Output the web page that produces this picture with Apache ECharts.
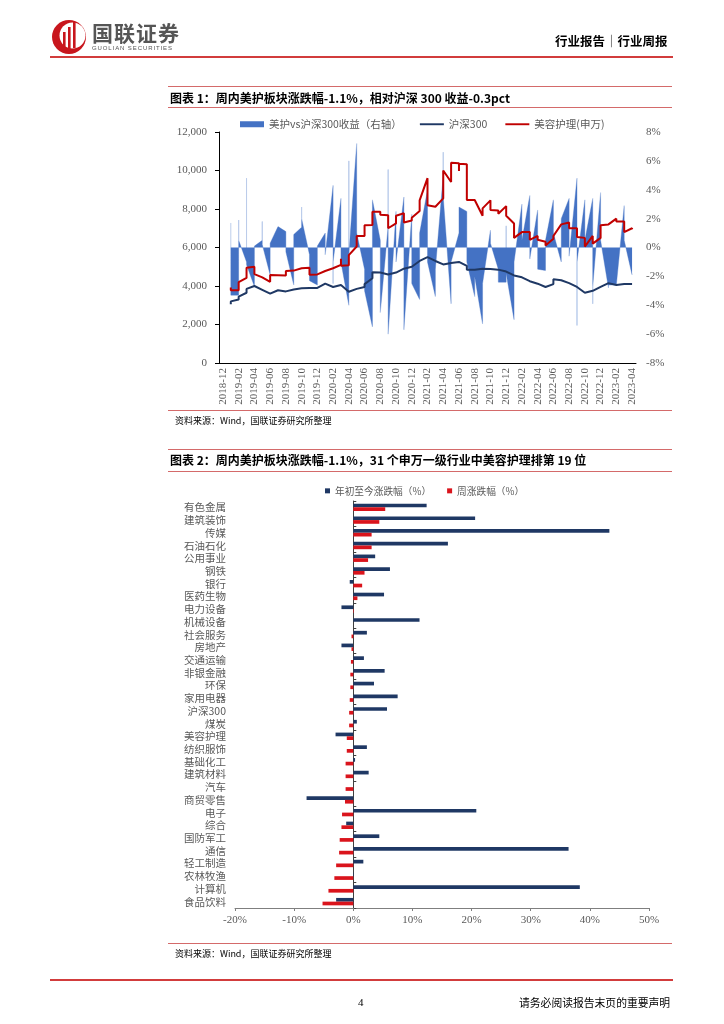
<!DOCTYPE html>
<html>
<head>
<meta charset="utf-8">
<script src="https://cdn.jsdelivr.net/npm/echarts@6/dist/echarts.min.js"></script>
<style>
  html, body { margin: 0; padding: 0; background: #fff; }
  #page { position: relative; width: 724px; height: 1024px; overflow: hidden; background: #fff; }
  #chart { position: absolute; left: 0; top: 0; width: 724px; height: 1024px; }
  .t { position: absolute; white-space: nowrap; font-family: "Noto Sans CJK SC", sans-serif; color: #000; line-height: 1; }
  .rule { position: absolute; height: 0; }
</style>
</head>
<body>
<div id="page">
  <div id="chart"></div>

  <!-- header -->
  <svg style="position:absolute;left:50px;top:18px" width="38" height="38" viewBox="0 0 38 38">
    <circle cx="19" cy="19" r="17" fill="#C8161D"/>
    <circle cx="22.5" cy="17.5" r="13" fill="#fff"/>
    <rect x="13" y="14" width="2.6" height="18" fill="#C8161D"/>
    <rect x="18" y="9" width="2.6" height="22" fill="#C8161D"/>
    <rect x="23" y="4" width="2.6" height="26" fill="#C8161D"/>
  </svg>
  <div class="t" style="left:92px;top:22px;font-size:21px;font-weight:bold;color:#555;letter-spacing:1px">国联证券</div>
  <div class="t" style="left:92px;top:45px;font-size:6px;font-family:'Liberation Sans',sans-serif;color:#555;letter-spacing:0.9px">GUOLIAN SECURITIES</div>
  <div class="t" style="left:555px;top:35px;font-size:12.5px;font-weight:bold">行业报告│行业周报</div>
  <div class="rule" style="left:50px;top:56px;width:623px;border-top:2px solid #D23C3C"></div>

  <!-- chart 1 title -->
  <div class="rule" style="left:168px;top:86px;width:504px;border-top:1px solid #D46A6A"></div>
  <div class="t" style="left:170px;top:92px;font-size:12px;font-weight:bold">图表 1：周内美护板块涨跌幅-1.1%，相对沪深 300 收益-0.3pct</div>
  <div class="rule" style="left:168px;top:107px;width:504px;border-top:1px solid #D46A6A"></div>

  <div class="rule" style="left:168px;top:410px;width:504px;border-top:1px solid #D46A6A"></div>
  <div class="t" style="left:175px;top:416px;font-size:9px">资料来源：Wind，国联证券研究所整理</div>

  <!-- chart 2 title -->
  <div class="rule" style="left:168px;top:449px;width:504px;border-top:1px solid #D46A6A"></div>
  <div class="t" style="left:170px;top:454px;font-size:12px;font-weight:bold">图表 2：周内美护板块涨跌幅-1.1%，31 个申万一级行业中美容护理排第 19 位</div>
  <div class="rule" style="left:168px;top:471px;width:504px;border-top:1px solid #D46A6A"></div>

  <div class="rule" style="left:168px;top:943px;width:504px;border-top:1px solid #D46A6A"></div>
  <div class="t" style="left:175px;top:949px;font-size:9px">资料来源：Wind，国联证券研究所整理</div>

  <!-- footer -->
  <div class="rule" style="left:50px;top:979px;width:623px;border-top:2px solid #D23C3C"></div>
  <div class="t" style="left:358px;top:997px;font-size:11px;font-family:'Liberation Serif',serif">4</div>
  <div class="t" style="left:519px;top:997px;font-size:10.8px">请务必阅读报告末页的重要声明</div>
</div>

<script>
// ---------- Chart 1 data ----------
const months = ['2018-12',
  '2019-01','2019-02','2019-03','2019-04','2019-05','2019-06','2019-07','2019-08','2019-09','2019-10','2019-11','2019-12',
  '2020-01','2020-02','2020-03','2020-04','2020-05','2020-06','2020-07','2020-08','2020-09','2020-10','2020-11','2020-12',
  '2021-01','2021-02','2021-03','2021-04','2021-05','2021-06','2021-07','2021-08','2021-09','2021-10','2021-11','2021-12',
  '2022-01','2022-02','2022-03','2022-04','2022-05','2022-06','2022-07','2022-08','2022-09','2022-10','2022-11','2022-12',
  '2023-01','2023-02','2023-03','2023-04'];

// weekly readings grouped by month, starting 2019-01
const beautyIndex = [
  [3920,3780],[3780,4200],[4420,4950],[5000,4620],[4450],[4220,4570],[4560,4600],[4550,4780],[4800,4850],[4920,4970],[4950,4580],[4600,4700],
  [4780,4850],[4920,5000],[5100,5420,5050],[5080,5600],[6050,6600],[6600,7150],[7170,7860],[7860,7700],[7680,7000],[7250,7650],[7780,7300],[7400,7550],
  [7900,8450],[9600,8200],[8120,8220],[8550,10000],[9400,10400],[10380,9980,10350],[10330,8470],[8470,8380],[7650,8030],[8450,7950],[7920,7750],[8150,7650],
  [7250,6500],[6800,6800],[6800,6400],[6600,6400],[6300,6100],[6450,6600],[7200,7300],[7300,7000],[7000,6550],[6500,6050],[6600,6200],[6500,7150],
  [7200,7250],[7500,7350],[7350,6800],[7000,6950]
];
const hs300Index = [
  [3050,3200],[3300,3450],[3650,3850],[4000,4050],[3800,3750],[3600,3620],[3780,3800],[3720,3780],[3820,3850],[3880,3900],[3900,3880],[3900,4000],
  [4120,4150],[3950,3920],[4050,4120],[3700,3720],[3850,3820],[3950,4100],[4400,4720],[4700,4680],[4600,4620],[4700,4800],[4900,4950],[5000,5080],
  [5300,5400],[5500,5420],[5300,5200],[5120,5080],[5200,5250],[5250,5200],[5050,4850],[4850,4880],[4900,4850],[4880,4920],[4850,4900],[4750,4700],
  [4550,4500],[4450,4400],[4250,4200],[4120,4100],[3950,3920],[4100,4350],[4300,4200],[4150,4050],[3950,3850],[3650,3600],[3750,3800],[3950,4000],
  [4150,4120],[4050,4080],[4100,4050],[4100,4120]
];
const relReturn = [
  [1.7,-3.3],[-3.3,1.9,0.5],[-1.0,4.8,-1.2],[-2.7,0.1],[0.5,1.8,0.2],[-1.9,0.3],[1.45],[1.1,-0.3],[-2.6,0.9],[1.4,2.8,2.0],[-0.5,-2.3],[-2.6,0.1],
  [1.0,-0.5],[4.3,-2.5,-1.0],[3.4,-1.0],[-4.0,6.0,-0.5],[7.2,1.0],[-1.5,-3.0],[-5.5,3.3],[0.5,-4.5],[1.5,5.4,-6.0],[2.5,-1.0],[3.5,-5.7],[2.3,-2.5],
  [-3.6,1.0],[4.0,4.7,-1.0],[-3.4,-1.5],[5.0,6.6,3.5],[-3.9,-1.0],[1.0,2.8],[2.5,-1.0],[-3.4,-2.0],[-5.3,-2.5],[1.2,0.3],[-1.5,-2.4],[-2.4,1.5,-1.8],
  [-5.0,-1.0],[3.0,0.5],[3.6,-0.8],[2.6,-1.5],[-1.6,0.5],[3.3,1.0],[-1.0,2.0],[3.4,-0.6],[4.8,-5.4,-1.0],[3.3,0.5],[3.4,-3.9,-2.7],[3.8,0.5],
  [-2.8,-2.6],[-2.6,-2.5],[2.9,0.5],[-1.9]
];

// ---------- Chart 2 data ----------
const industries = ['有色金属','建筑装饰','传媒','石油石化','公用事业','钢铁','银行','医药生物','电力设备','机械设备','社会服务','房地产','交通运输','非银金融','环保','家用电器','沪深300','煤炭','美容护理','纺织服饰','基础化工','建筑材料','汽车','商贸零售','电子','综合','国防军工','通信','轻工制造','农林牧渔','计算机','食品饮料'];
const ytdChange = [12.4,20.6,43.3,16.0,3.7,6.2,-0.6,5.2,-2.0,11.2,2.3,-2.0,1.8,5.3,3.5,7.5,5.7,0.6,-3.0,2.3,0.3,2.6,0.0,-7.9,20.8,-1.2,4.4,36.4,1.7,0.1,38.3,-2.9];
const weekChange = [5.4,4.4,3.1,3.1,2.5,1.9,1.5,0.7,0.1,0.0,-0.3,-0.3,-0.4,-0.5,-0.5,-0.6,-0.7,-0.7,-1.1,-1.1,-1.3,-1.3,-1.3,-1.4,-1.9,-2.0,-2.3,-2.4,-2.9,-3.2,-4.2,-5.2];

function toPoints(groups) {
  const pts = [];
  groups.forEach((vals, i) => vals.forEach(v => pts.push([months[i + 1], v])));
  return pts;
}

const serif = 'Liberation Serif';
const cjk = 'Noto Sans CJK SC';
const grey = '#595959';
const lineIcon = 'path://M0,0H50V4H0Z';

const chart = echarts.init(document.getElementById('chart'), null, { renderer: 'canvas' });
const relPts = toPoints(relReturn);

chart.setOption({
  animation: false,
  textStyle: { fontFamily: cjk },
  legend: [
    {
      left: 240, top: 119, padding: 0, itemWidth: 24, itemHeight: 6, itemGap: 18,
      textStyle: { fontSize: 10.5, color: grey, fontFamily: cjk },
      data: [
        { name: '美护vs沪深300收益（右轴）', icon: 'rect' },
        { name: '沪深300', icon: lineIcon },
        { name: '美容护理(申万)', icon: lineIcon }
      ]
    },
    {
      left: 325, top: 486, padding: 0, itemWidth: 5, itemHeight: 5, itemGap: 16,
      textStyle: { fontSize: 9.7, color: grey, fontFamily: cjk },
      data: [
        { name: '年初至今涨跌幅（%）', icon: 'rect' },
        { name: '周涨跌幅（%）', icon: 'rect' }
      ]
    }
  ],
  grid: [
    { left: 219, top: 132, width: 417, height: 231, containLabel: false, outerBoundsMode: 'none' },
    { left: 235, top: 501, width: 414, height: 407, containLabel: false, outerBoundsMode: 'none' }
  ],
  xAxis: [
    {
      gridIndex: 0, type: 'category', data: months, boundaryGap: true,
      axisLine: { lineStyle: { color: '#000', width: 1 } },
      axisTick: { interval: 1, length: 4, lineStyle: { color: '#000' } },
      axisLabel: { interval: 1, rotate: 90, fontSize: 11, fontFamily: serif, color: grey, margin: 5 },
      splitLine: { show: false }
    },
    {
      gridIndex: 1, type: 'value', min: -20, max: 50, interval: 10,
      axisLine: { show: true, lineStyle: { color: '#7f7f7f', width: 1 } },
      axisTick: { show: true, length: 3, lineStyle: { color: '#7f7f7f' } },
      axisLabel: { formatter: v => v + '%', fontSize: 11, fontFamily: serif, color: grey, margin: 7 },
      splitLine: { show: false }
    }
  ],
  yAxis: [
    {
      gridIndex: 0, type: 'value', min: 0, max: 12000, interval: 2000, position: 'left',
      axisLine: { show: true, lineStyle: { color: '#000', width: 1 } },
      axisTick: { show: true, length: 4, lineStyle: { color: '#000' } },
      axisLabel: { formatter: v => v.toLocaleString('en-US'), fontSize: 11, fontFamily: serif, color: grey, margin: 12 },
      splitLine: { show: false }
    },
    {
      gridIndex: 0, type: 'value', min: -8, max: 8, interval: 2, position: 'right',
      axisLine: { show: false }, axisTick: { show: false },
      axisLabel: { formatter: v => v + '%', fontSize: 11, fontFamily: serif, color: grey, margin: 10 },
      splitLine: { show: false }
    },
    {
      gridIndex: 1, type: 'category', data: industries, inverse: true,
      axisLine: { show: true, onZero: true, lineStyle: { color: '#404040', width: 1 } },
      axisTick: { show: true, inside: true, length: 3, lineStyle: { color: '#404040' } },
      axisLabel: { show: false },
      splitLine: { show: false }
    },
    {
      gridIndex: 1, type: 'category', data: industries, inverse: true, position: 'left',
      axisLine: { show: false, onZero: false }, axisTick: { show: false },
      axisLabel: { interval: 0, fontSize: 10.5, color: grey, fontFamily: cjk, margin: 9 },
      splitLine: { show: false }
    }
  ],
  series: [
    {
      name: 'spikes', type: 'line', xAxisIndex: 0, yAxisIndex: 1, data: relPts,
      symbol: 'none', silent: true, z: 1,
      lineStyle: { color: '#BCCDEB', width: 1 }
    },
    {
      name: '美护vs沪深300收益（右轴）', type: 'line', xAxisIndex: 0, yAxisIndex: 1, data: relPts,
      symbol: 'none', z: 2,
      itemStyle: { color: '#4472C4' },
      lineStyle: { width: 0, color: '#4472C4' },
      areaStyle: { color: '#4472C4', opacity: 1 }
    },
    {
      name: '沪深300', type: 'line', xAxisIndex: 0, yAxisIndex: 0, data: toPoints(hs300Index),
      symbol: 'none', z: 3,
      itemStyle: { color: '#1F3864' },
      lineStyle: { color: '#1F3864', width: 2 }
    },
    {
      name: '美容护理(申万)', type: 'line', xAxisIndex: 0, yAxisIndex: 0, data: toPoints(beautyIndex),
      symbol: 'none', z: 4,
      itemStyle: { color: '#C00000' },
      lineStyle: { color: '#C00000', width: 2 }
    },
    {
      name: '年初至今涨跌幅（%）', type: 'bar', xAxisIndex: 1, yAxisIndex: 2, data: ytdChange,
      barWidth: 3.7, barGap: '0%', itemStyle: { color: '#1F3864' }
    },
    {
      name: '周涨跌幅（%）', type: 'bar', xAxisIndex: 1, yAxisIndex: 2, data: weekChange,
      barWidth: 3.7, barGap: '0%', itemStyle: { color: '#DA141C' }
    }
  ]
});
</script>
</body>
</html>
